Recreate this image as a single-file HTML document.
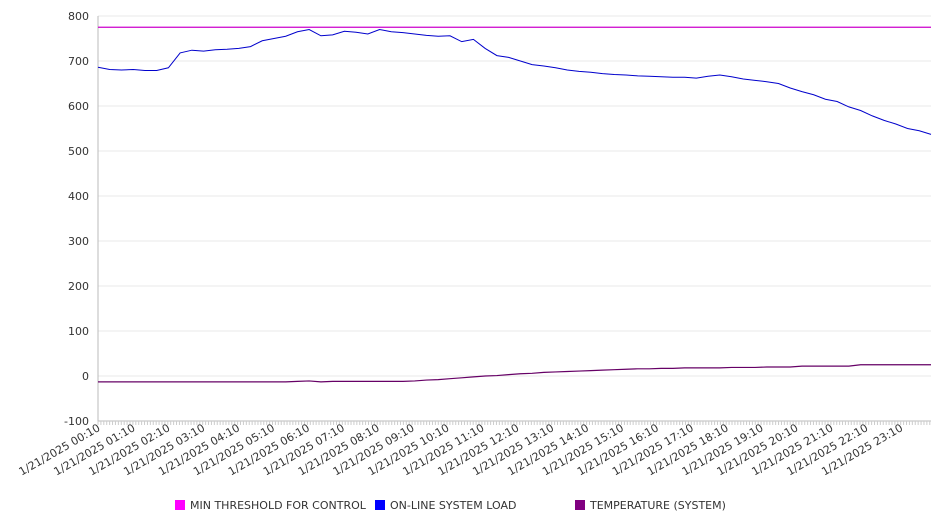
<!DOCTYPE html>
<html><head><meta charset="utf-8"><style>
body{margin:0;background:#fff;}
svg{display:block;font-family:"DejaVu Sans","Liberation Sans",sans-serif;}
</style></head><body>
<svg id="chart" width="946" height="526">
<g id="grid"></g>
<g id="axes"></g>
<g id="series"></g>
<g id="legend">
 <rect x="175" y="500" width="10" height="10" fill="#ff00ff"/>
 <text x="190" y="509" font-size="11" fill="#333">MIN THRESHOLD FOR CONTROL</text>
 <rect x="375" y="500" width="10" height="10" fill="#0000ff"/>
 <text x="390" y="509" font-size="11" fill="#333">ON-LINE SYSTEM LOAD</text>
 <rect x="575" y="500" width="10" height="10" fill="#800080"/>
 <text x="590" y="509" font-size="11" fill="#333">TEMPERATURE (SYSTEM)</text>
</g>
</svg>
<script>
const yTicks=[-100,0,100,200,300,400,500,600,700,800];
const xLabels=["00:10","01:10","02:10","03:10","04:10","05:10","06:10","07:10","08:10","09:10","10:10","11:10","12:10","13:10","14:10","15:10","16:10","17:10","18:10","19:10","20:10","21:10","22:10","23:10"];
const threshold=775;
const loadValues=[686,681,680,681,679,679,685,718,724,722,725,726,728,732,745,750,755,765,770,756,758,766,764,760,770,765,763,760,757,755,756,743,748,728,712,708,700,692,689,685,680,677,675,672,670,669,667,666,665,664,664,662,666,669,665,660,657,654,650,640,632,625,615,610,598,590,578,568,560,550,545,537];
const tempValues=[-13,-13,-13,-13,-13,-13,-13,-13,-13,-13,-13,-13,-13,-13,-13,-13,-13,-12,-11,-13,-12,-12,-12,-12,-12,-12,-12,-11,-9,-8,-6,-4,-2,0,1,3,5,6,8,9,10,11,12,13,14,15,16,16,17,17,18,18,18,18,19,19,19,20,20,20,22,22,22,22,22,25,25,25,25,25,25,25];
const X0=98,X1=931,stepMin=20,hourPx=34.9;
const y=v=>16+(800-v)*0.45;
const xi=i=>X0+i*(X1-X0)/(loadValues.length-1);
const NS="http://www.w3.org/2000/svg";
function mk(tag,attrs,parent){const e=document.createElementNS(NS,tag);for(const k in attrs)e.setAttribute(k,attrs[k]);parent.appendChild(e);return e;}
const grid=document.getElementById('grid'),axes=document.getElementById('axes'),series=document.getElementById('series');
yTicks.forEach(t=>{
 const l=mk('line',{x1:X0,x2:X1,y1:y(t),y2:y(t),stroke:'#e8e8e8'},grid);
 
 
 const tx=mk('text',{x:89,y:y(t)+4,'text-anchor':'end','font-size':'11',fill:'#333'},axes);
 tx.textContent=t;
 
 
});
const ya=mk('line',{x1:X0,x2:X0,y1:16,y2:421,stroke:'#bbb'},axes);


const xa=mk('line',{x1:X0,x2:X1,y1:421,y2:421,stroke:'#bbb'},axes);


for(let x=X0;x<=X1+0.5;x+=hourPx/12){
 const tk=mk('line',{x1:x,x2:x,y1:421,y2:425,stroke:'#ccc'},axes);
 
 
}
xLabels.forEach((lab,i)=>{
 const x=X0+i*hourPx+3;
 const tx=mk('text',{x:x,y:430,'text-anchor':'end','font-size':'11',fill:'#333',transform:`rotate(-30 ${x} 430)`},axes);
 tx.textContent='1/21/2025 '+lab;
 
 
});
const th=mk('line',{x1:X0,x2:X1,y1:y(threshold),y2:y(threshold),stroke:'#cc00cc','stroke-width':1.2},series);


const lp=mk('polyline',{points:loadValues.map((v,i)=>xi(i)+','+y(v)).join(' '),fill:'none',stroke:'#0000cc','stroke-width':1},series);


const tp=mk('polyline',{points:tempValues.map((v,i)=>(X0+i*(X1-X0)/(tempValues.length-1))+','+y(v)).join(' '),fill:'none',stroke:'#660066','stroke-width':1.2},series);


</script>
</body></html>
